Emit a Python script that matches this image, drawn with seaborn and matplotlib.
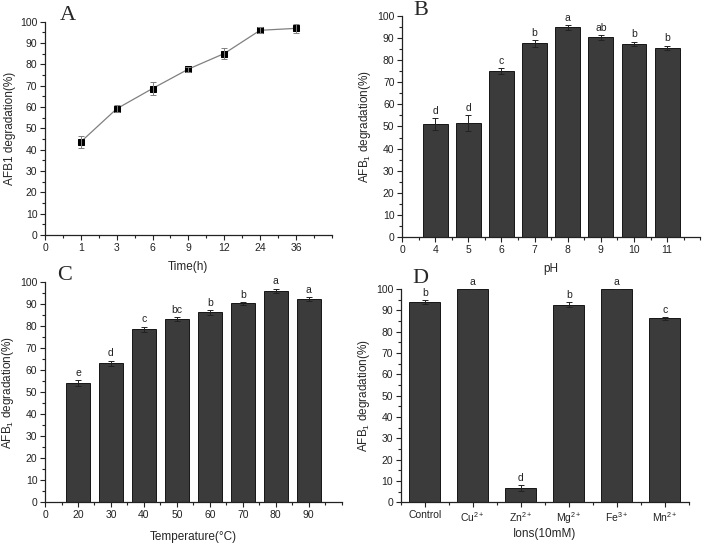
import numpy as np
import pandas as pd
import matplotlib
matplotlib.use("Agg")
import matplotlib.pyplot as plt
import seaborn as sns
from matplotlib.ticker import MultipleLocator

# Panel A: time course
time_labels = ["1", "3", "6", "9", "12", "24", "36"]
time_vals = [43.7, 59.2, 68.7, 77.8, 85.1, 96.0, 96.9]
time_err = [2.7, 1.7, 3.0, 1.2, 2.5, 1.5, 2.0]

# Panel B: pH
ph_labels = ["4", "5", "6", "7", "8", "9", "10", "11"]
ph_vals = [51.0, 51.6, 75.0, 87.5, 94.8, 90.2, 87.3, 85.5]
ph_err = [2.7, 3.5, 1.3, 1.5, 1.0, 1.2, 1.0, 1.0]
ph_sig = ["d", "d", "c", "b", "a", "ab", "b", "b"]

# Panel C: temperature
temp_labels = ["20", "30", "40", "50", "60", "70", "80", "90"]
temp_vals = [54.0, 63.0, 78.5, 83.2, 86.2, 90.3, 96.0, 92.2]
temp_err = [1.3, 1.3, 1.2, 0.8, 1.2, 0.6, 1.0, 0.8]
temp_sig = ["e", "d", "c", "bc", "b", "b", "a", "a"]

# Panel D: metal ions
ion_labels = ["Control", "Cu$^{2+}$", "Zn$^{2+}$", "Mg$^{2+}$", "Fe$^{3+}$", "Mn$^{2+}$"]
ion_vals = [94.0, 100.0, 6.7, 92.7, 100.0, 86.3]
ion_err = [0.8, 0.0, 1.3, 1.3, 0.0, 0.6]
ion_sig = ["b", "a", "d", "b", "a", "c"]

BAR_COLOR = "#3b3b3b"


def style_axis(ax):
    sns.despine(ax=ax)
    ax.set_ylim(0, 100)
    ax.yaxis.set_major_locator(MultipleLocator(10))
    ax.yaxis.set_minor_locator(MultipleLocator(5))
    ax.tick_params(which="both", direction="out", bottom=True, left=True,
                   labelsize=7.5, width=0.8, colors="#222222", pad=2)
    ax.tick_params(which="major", length=3.5)
    ax.tick_params(which="minor", length=2)
    for s in ["left", "bottom"]:
        ax.spines[s].set_linewidth(0.9)
        ax.spines[s].set_color("#222222")


def bar_panel(ax, labels, vals, errs, sig, width, zero_tick=True):
    df = pd.DataFrame({"cat": labels, "val": vals})
    sns.barplot(data=df, x="cat", y="val", order=labels, color=BAR_COLOR,
                edgecolor="black", linewidth=0.6, width=width, saturation=1, ax=ax)
    centers = [p.get_x() + p.get_width() / 2 for p in ax.patches]
    ax.errorbar(centers, vals, yerr=errs, fmt="none", ecolor="#222222",
                elinewidth=0.7, capsize=2, capthick=0.7)
    for x, v, e, s in zip(centers, vals, errs, sig):
        ax.text(x, v + e + 1.0, s, ha="center", va="bottom", fontsize=7.5, color="#222222")
    n = len(labels)
    if zero_tick:
        ax.set_xlim(-1, n)
        ax.set_xticks(range(-1, n))
        ax.set_xticklabels(["0"] + labels)
    else:
        ax.set_xlim(-0.5, n - 0.5)
        ax.set_xticks(range(n))
        ax.set_xticklabels(labels)
    ax.xaxis.set_minor_locator(MultipleLocator(0.5))
    style_axis(ax)


def main():
    sns.set_style("ticks")
    plt.rcParams["font.family"] = ["Liberation Sans", "DejaVu Sans"]
    plt.rcParams["mathtext.fontset"] = "custom"
    plt.rcParams["mathtext.rm"] = "Liberation Sans"
    plt.rcParams["mathtext.default"] = "regular"

    fig = plt.figure(figsize=(7.08, 5.44), dpi=100)
    axA = fig.add_axes([0.0636, 0.568, 0.405, 0.392])
    axB = fig.add_axes([0.568, 0.564, 0.421, 0.407])
    axC = fig.add_axes([0.0636, 0.0767, 0.419, 0.405])
    axD = fig.add_axes([0.566, 0.0767, 0.407, 0.392])

    # A: line with square markers
    pos = np.arange(1, len(time_labels) + 1)
    sns.lineplot(x=pos, y=time_vals, ax=axA, color="#808080", linewidth=0.9,
                 marker="s", markersize=4.5, markerfacecolor="black",
                 markeredgecolor="black")
    axA.errorbar(pos, time_vals, yerr=time_err, fmt="none", ecolor="#808080",
                 elinewidth=0.7, capsize=2, capthick=0.7)
    axA.set_xlim(0, 8)
    axA.set_xticks(range(0, 8))
    axA.set_xticklabels(["0"] + time_labels)
    axA.xaxis.set_minor_locator(MultipleLocator(0.5))
    style_axis(axA)
    axA.set_xlabel("Time(h)", fontsize=8.5, labelpad=6)
    axA.set_ylabel("AFB1 degradation(%)", fontsize=8.5, labelpad=3)

    bar_panel(axB, ph_labels, ph_vals, ph_err, ph_sig, 0.75)
    axB.set_xlabel("pH", fontsize=8.5, labelpad=6)
    axB.set_ylabel("AFB$_1$ degradation(%)", fontsize=8.5, labelpad=3)

    bar_panel(axC, temp_labels, temp_vals, temp_err, temp_sig, 0.72)
    axC.set_xlabel("Temperature(°C)", fontsize=8.5, labelpad=8)
    axC.set_ylabel("AFB$_1$ degradation(%)", fontsize=8.5, labelpad=3)

    bar_panel(axD, ion_labels, ion_vals, ion_err, ion_sig, 0.65, zero_tick=False)
    axD.set_xlabel("Ions(10mM)", fontsize=8.5, labelpad=2)
    axD.set_ylabel("AFB$_1$ degradation(%)", fontsize=8.5, labelpad=3)

    # panel letters
    for ax, letter, dx, dy in [(axA, "A", 0.05, 1.03), (axB, "B", 0.037, 1.025),
                               (axC, "C", 0.04, 1.03), (axD, "D", 0.04, 1.05)]:
        ax.text(dx, dy, letter, transform=ax.transAxes, fontsize=16,
                family="Liberation Serif", ha="left", va="center")

    fig.savefig("out.png", dpi=100)


if __name__ == "__main__":
    main()
